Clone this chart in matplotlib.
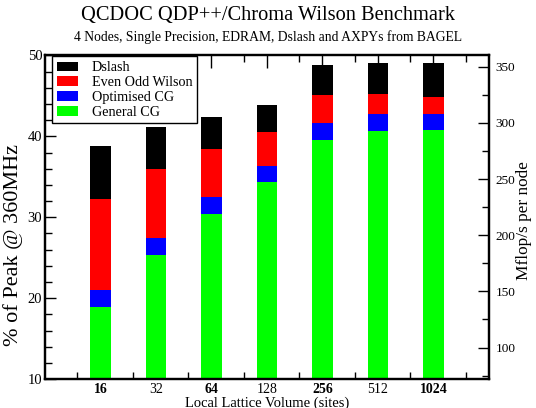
import numpy as np
import matplotlib
matplotlib.use("Agg")
import matplotlib.pyplot as plt
from matplotlib.patches import Patch
from matplotlib.ticker import MultipleLocator, FixedLocator

volumes = ["16", "32", "64", "128", "256", "512", "1024"]
bold_labels = [True, False, True, False, True, False, True]

# cumulative heights (% of peak)
dslash = [38.8, 41.1, 42.4, 43.9, 48.8, 49.1, 49.1]
even_odd = [32.2, 36.0, 38.5, 40.6, 45.1, 45.3, 44.9]
opt_cg = [21.05, 27.4, 32.5, 36.3, 41.6, 42.8, 42.8]
gen_cg = [18.9, 25.3, 30.4, 34.3, 39.5, 40.7, 40.8]

series_names = ["Dslash", "Even Odd Wilson", "Optimised CG", "General CG"]
series_colors = ["#000000", "#ff0000", "#0000ff", "#00ff00"]

peak_mflops = 720.0  # 360 MHz * 2 flops/cycle

plt.rcParams['font.family'] = ['Liberation Serif', 'DejaVu Serif']
plt.rcParams['xtick.direction'] = 'in'
plt.rcParams['ytick.direction'] = 'in'

fig = plt.figure(figsize=(5.36, 4.08), dpi=100)
ax = fig.add_axes([0.084, 0.071, 0.828, 0.793])

x = np.arange(1, len(volumes) + 1)
width = 0.37
for vals, col in zip([dslash, even_odd, opt_cg, gen_cg], series_colors):
    ax.bar(x, np.array(vals) - 10, bottom=10, width=width, color=col,
           edgecolor='none', zorder=2)

ax.set_xlim(0, 8)
ax.set_ylim(10, 50)
ax.set_xticks(x)
ax.set_xticklabels(volumes, fontsize=10)
for lab, b in zip(ax.get_xticklabels(), bold_labels):
    if b:
        lab.set_fontweight('bold')
ax.xaxis.set_minor_locator(FixedLocator(np.arange(0, 8) + 0.58))
ax.tick_params(axis='x', which='major', length=9, width=1, top=True, pad=3)
ax.tick_params(axis='x', which='minor', length=5, width=1, top=True)

ax.yaxis.set_major_locator(MultipleLocator(10))
ax.yaxis.set_minor_locator(MultipleLocator(2))
ax.tick_params(axis='y', which='major', length=8, width=1, labelsize=10.5, pad=2)
ax.tick_params(axis='y', which='minor', length=5, width=1)

for s in ax.spines.values():
    s.set_linewidth(1.6)

ax.set_ylabel("% of Peak @ 360MHz", fontsize=16)
ax.yaxis.set_label_coords(-0.05, 0.414)
ax.set_xlabel("Local Lattice Volume (sites)", fontsize=10.5, labelpad=0)

ax2 = ax.twinx()
ax2.set_ylim(10 * peak_mflops / 100, 50 * peak_mflops / 100)
ax2.yaxis.set_major_locator(MultipleLocator(50))
ax2.yaxis.set_minor_locator(MultipleLocator(25))
ax2.tick_params(axis='y', which='major', length=8, width=1, labelsize=9.5, pad=5)
ax2.tick_params(axis='y', which='minor', length=5, width=1)
ax2.set_ylabel("Mflop/s per node", fontsize=12.4)
ax2.yaxis.set_label_coords(1.062, 0.49)
for s in ax2.spines.values():
    s.set_linewidth(1.6)

handles = [Patch(facecolor=c, edgecolor='none') for c in series_colors]
leg = ax.legend(handles, series_names, loc='upper left',
                bbox_to_anchor=(0.016, 0.997), fontsize=10.2, frameon=True,
                fancybox=False, edgecolor='black', framealpha=1,
                handlelength=1.45, handleheight=0.7, handletextpad=1.0,
                labelspacing=0.12, borderpad=0.35, borderaxespad=0)
leg.get_frame().set_linewidth(1.0)
leg.set_zorder(5)

fig.text(0.5, 0.963, "QCDOC QDP++/Chroma Wilson Benchmark", ha='center',
         va='center', fontsize=14.7)
fig.text(0.5, 0.909, "4 Nodes, Single Precision, EDRAM, Dslash and AXPYs from BAGEL",
         ha='center', va='center', fontsize=9.8)

fig.savefig("out.png", dpi=100)
